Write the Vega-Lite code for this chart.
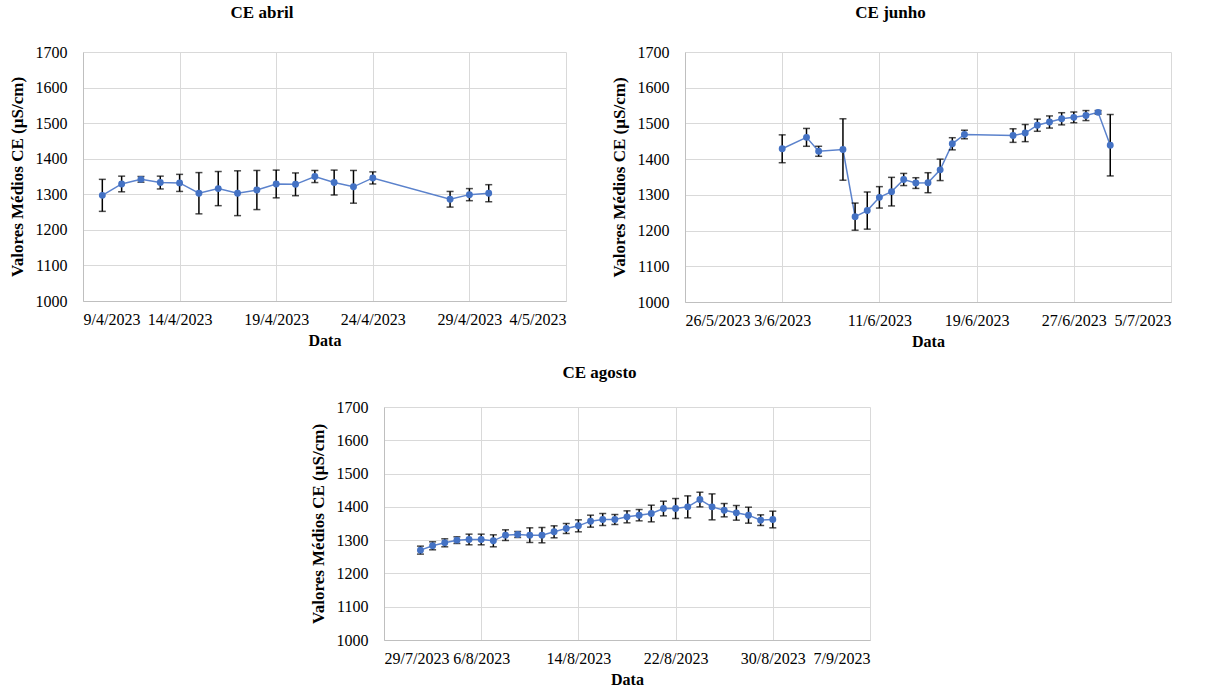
{
  "$schema": "https://vega.github.io/schema/vega-lite/v6.json",
  "background": "white",
  "padding": {"left": 8, "top": 4, "right": 4, "bottom": 1},
  "datasets": {
    "abril": [
      {"d": "2023/04/10", "v": 1297, "e": 45},
      {"d": "2023/04/11", "v": 1329, "e": 22},
      {"d": "2023/04/12", "v": 1342, "e": 8},
      {"d": "2023/04/13", "v": 1333, "e": 18},
      {"d": "2023/04/14", "v": 1332, "e": 24},
      {"d": "2023/04/15", "v": 1303, "e": 58},
      {"d": "2023/04/16", "v": 1316, "e": 48},
      {"d": "2023/04/17", "v": 1303, "e": 63},
      {"d": "2023/04/18", "v": 1312, "e": 55},
      {"d": "2023/04/19", "v": 1329, "e": 39},
      {"d": "2023/04/20", "v": 1328, "e": 32},
      {"d": "2023/04/21", "v": 1350, "e": 17},
      {"d": "2023/04/22", "v": 1333, "e": 35},
      {"d": "2023/04/23", "v": 1321, "e": 46},
      {"d": "2023/04/24", "v": 1346, "e": 17},
      {"d": "2023/04/28", "v": 1286, "e": 22},
      {"d": "2023/04/29", "v": 1299, "e": 17},
      {"d": "2023/04/30", "v": 1303, "e": 24}
    ],
    "junho": [
      {"d": "2023/06/03", "v": 1429, "e": 39},
      {"d": "2023/06/05", "v": 1461, "e": 25},
      {"d": "2023/06/06", "v": 1422, "e": 14},
      {"d": "2023/06/08", "v": 1427, "e": 86},
      {"d": "2023/06/09", "v": 1239, "e": 38},
      {"d": "2023/06/10", "v": 1256, "e": 52},
      {"d": "2023/06/11", "v": 1293, "e": 30},
      {"d": "2023/06/12", "v": 1309, "e": 40},
      {"d": "2023/06/13", "v": 1343, "e": 17},
      {"d": "2023/06/14", "v": 1333, "e": 15},
      {"d": "2023/06/15", "v": 1334, "e": 28},
      {"d": "2023/06/16", "v": 1370, "e": 30},
      {"d": "2023/06/17", "v": 1443, "e": 17},
      {"d": "2023/06/18", "v": 1469, "e": 12},
      {"d": "2023/06/22", "v": 1466, "e": 19},
      {"d": "2023/06/23", "v": 1473, "e": 24},
      {"d": "2023/06/24", "v": 1495, "e": 17},
      {"d": "2023/06/25", "v": 1504, "e": 17},
      {"d": "2023/06/26", "v": 1513, "e": 17},
      {"d": "2023/06/27", "v": 1517, "e": 15},
      {"d": "2023/06/28", "v": 1522, "e": 14},
      {"d": "2023/06/29", "v": 1531, "e": 5},
      {"d": "2023/06/30", "v": 1439, "e": 86}
    ],
    "agosto": [
      {"d": "2023/08/01", "v": 1270, "e": 12},
      {"d": "2023/08/02", "v": 1283, "e": 12},
      {"d": "2023/08/03", "v": 1292, "e": 12},
      {"d": "2023/08/04", "v": 1300, "e": 10},
      {"d": "2023/08/05", "v": 1302, "e": 16},
      {"d": "2023/08/06", "v": 1302, "e": 16},
      {"d": "2023/08/07", "v": 1298, "e": 18},
      {"d": "2023/08/08", "v": 1315, "e": 16},
      {"d": "2023/08/09", "v": 1317, "e": 9},
      {"d": "2023/08/10", "v": 1315, "e": 22},
      {"d": "2023/08/11", "v": 1315, "e": 23},
      {"d": "2023/08/12", "v": 1325, "e": 18},
      {"d": "2023/08/13", "v": 1335, "e": 15},
      {"d": "2023/08/14", "v": 1343, "e": 18},
      {"d": "2023/08/15", "v": 1357, "e": 18},
      {"d": "2023/08/16", "v": 1362, "e": 18},
      {"d": "2023/08/17", "v": 1362, "e": 15},
      {"d": "2023/08/18", "v": 1370, "e": 18},
      {"d": "2023/08/19", "v": 1375, "e": 17},
      {"d": "2023/08/20", "v": 1380, "e": 25},
      {"d": "2023/08/21", "v": 1395, "e": 22},
      {"d": "2023/08/22", "v": 1395, "e": 30},
      {"d": "2023/08/23", "v": 1400, "e": 33},
      {"d": "2023/08/24", "v": 1422, "e": 22},
      {"d": "2023/08/25", "v": 1400, "e": 39},
      {"d": "2023/08/26", "v": 1390, "e": 20},
      {"d": "2023/08/27", "v": 1382, "e": 22},
      {"d": "2023/08/28", "v": 1375, "e": 24},
      {"d": "2023/08/29", "v": 1360, "e": 16},
      {"d": "2023/08/30", "v": 1362, "e": 25}
    ]
  },
  "vconcat": [
    {
      "hconcat": [
        {
          "title": {"text": "CE abril", "frame": "bounds", "offset": 22, "dx": -25},
          "width": 483,
          "height": 249,
          "data": {"name": "abril"},
          "encoding": {
            "x": {"field": "d", "type": "temporal", "title": "Data",
              "scale": {"domain": [{"year": 2023, "month": 4, "date": 9}, {"year": 2023, "month": 5, "date": 4}]},
              "axis": {"format": "%-d/%-m/%Y", "values": [
                {"year": 2023, "month": 4, "date": 9}, {"year": 2023, "month": 4, "date": 14},
                {"year": 2023, "month": 4, "date": 19}, {"year": 2023, "month": 4, "date": 24},
                {"year": 2023, "month": 4, "date": 29}, {"year": 2023, "month": 5, "date": 4}]}},
            "y": {"field": "v", "type": "quantitative", "title": "Valores Médios  CE (µS/cm)",
              "scale": {"domain": [1000, 1700]}, "axis": {"format": "d", "values": [1000, 1100, 1200, 1300, 1400, 1500, 1600, 1700]}}
          },
          "layer": [
            {"mark": {"type": "line", "color": "#5b82cc", "strokeWidth": 1.5}},
            {
              "mark": {"type": "errorbar", "ticks": {"color": "black", "size": 7, "thickness": 1.5}, "rule": {"color": "black", "strokeWidth": 1.5}},
              "encoding": {"yError": {"field": "e"}}
            },
            {"mark": {"type": "point", "filled": true, "shape": "circle", "size": 48, "color": "#4472c4", "opacity": 1}}
          ]
        },
        {
          "title": {"text": "CE junho", "frame": "bounds", "offset": 22},
          "width": 486,
          "height": 250,
          "data": {"name": "junho"},
          "encoding": {
            "x": {"field": "d", "type": "temporal", "title": "Data",
              "scale": {"domain": [{"year": 2023, "month": 5, "date": 26}, {"year": 2023, "month": 7, "date": 5}]},
              "axis": {"format": "%-d/%-m/%Y", "values": [
                {"year": 2023, "month": 5, "date": 26}, {"year": 2023, "month": 6, "date": 3},
                {"year": 2023, "month": 6, "date": 11}, {"year": 2023, "month": 6, "date": 19},
                {"year": 2023, "month": 6, "date": 27}, {"year": 2023, "month": 7, "date": 5}]}},
            "y": {"field": "v", "type": "quantitative", "title": "Valores Médios CE (µS/cm)",
              "scale": {"domain": [1000, 1700]}, "axis": {"format": "d", "values": [1000, 1100, 1200, 1300, 1400, 1500, 1600, 1700]}}
          },
          "layer": [
            {"mark": {"type": "line", "color": "#5b82cc", "strokeWidth": 1.5}},
            {
              "mark": {"type": "errorbar", "ticks": {"color": "black", "size": 7, "thickness": 1.5}, "rule": {"color": "black", "strokeWidth": 1.5}},
              "encoding": {"yError": {"field": "e"}}
            },
            {"mark": {"type": "point", "filled": true, "shape": "circle", "size": 48, "color": "#4472c4", "opacity": 1}}
          ]
        }
      ]
    },
    {
      "title": {"text": "CE agosto", "frame": "bounds", "offset": 17, "dx": 10},
      "width": 486,
      "height": 233,
      "data": {"name": "agosto"},
      "encoding": {
        "x": {"field": "d", "type": "temporal", "title": "Data",
          "scale": {"domain": [{"year": 2023, "month": 7, "date": 29}, {"year": 2023, "month": 9, "date": 7}]},
          "axis": {"format": "%-d/%-m/%Y", "values": [
            {"year": 2023, "month": 7, "date": 29}, {"year": 2023, "month": 8, "date": 6},
            {"year": 2023, "month": 8, "date": 14}, {"year": 2023, "month": 8, "date": 22},
            {"year": 2023, "month": 8, "date": 30}, {"year": 2023, "month": 9, "date": 7}]}},
        "y": {"field": "v", "type": "quantitative", "title": "Valores Médios CE (µS/cm)",
          "scale": {"domain": [1000, 1700]}, "axis": {"format": "d", "values": [1000, 1100, 1200, 1300, 1400, 1500, 1600, 1700]}}
      },
      "layer": [
        {"mark": {"type": "line", "color": "#5b82cc", "strokeWidth": 1.5}},
        {
          "mark": {"type": "errorbar", "ticks": {"color": "black", "size": 7, "thickness": 1.5}, "rule": {"color": "black", "strokeWidth": 1.5}},
          "encoding": {"yError": {"field": "e"}}
        },
        {"mark": {"type": "point", "filled": true, "shape": "circle", "size": 48, "color": "#4472c4", "opacity": 1}}
      ]
    }
  ],
  "center": true,
  "spacing": 15,
  "config": {
    "font": "Liberation Serif",
    "view": {"stroke": null},
    "concat": {"spacing": 44},
    "title": {"font": "Liberation Serif", "fontSize": 17, "fontWeight": "bold", "color": "#000"},
    "axis": {
      "labelFont": "Liberation Serif", "labelFontSize": 16, "labelColor": "#000",
      "titleFont": "Liberation Serif", "titleFontSize": 16, "titleFontWeight": "bold", "titleColor": "#000",
      "gridColor": "#d9d9d9", "domainColor": "#bfbfbf", "ticks": false
    },
    "axisY": {"labelPadding": 16, "titlePadding": 9, "titleFontSize": 17},
    "axisX": {"labelPadding": 10, "titlePadding": 5}
  }
}
